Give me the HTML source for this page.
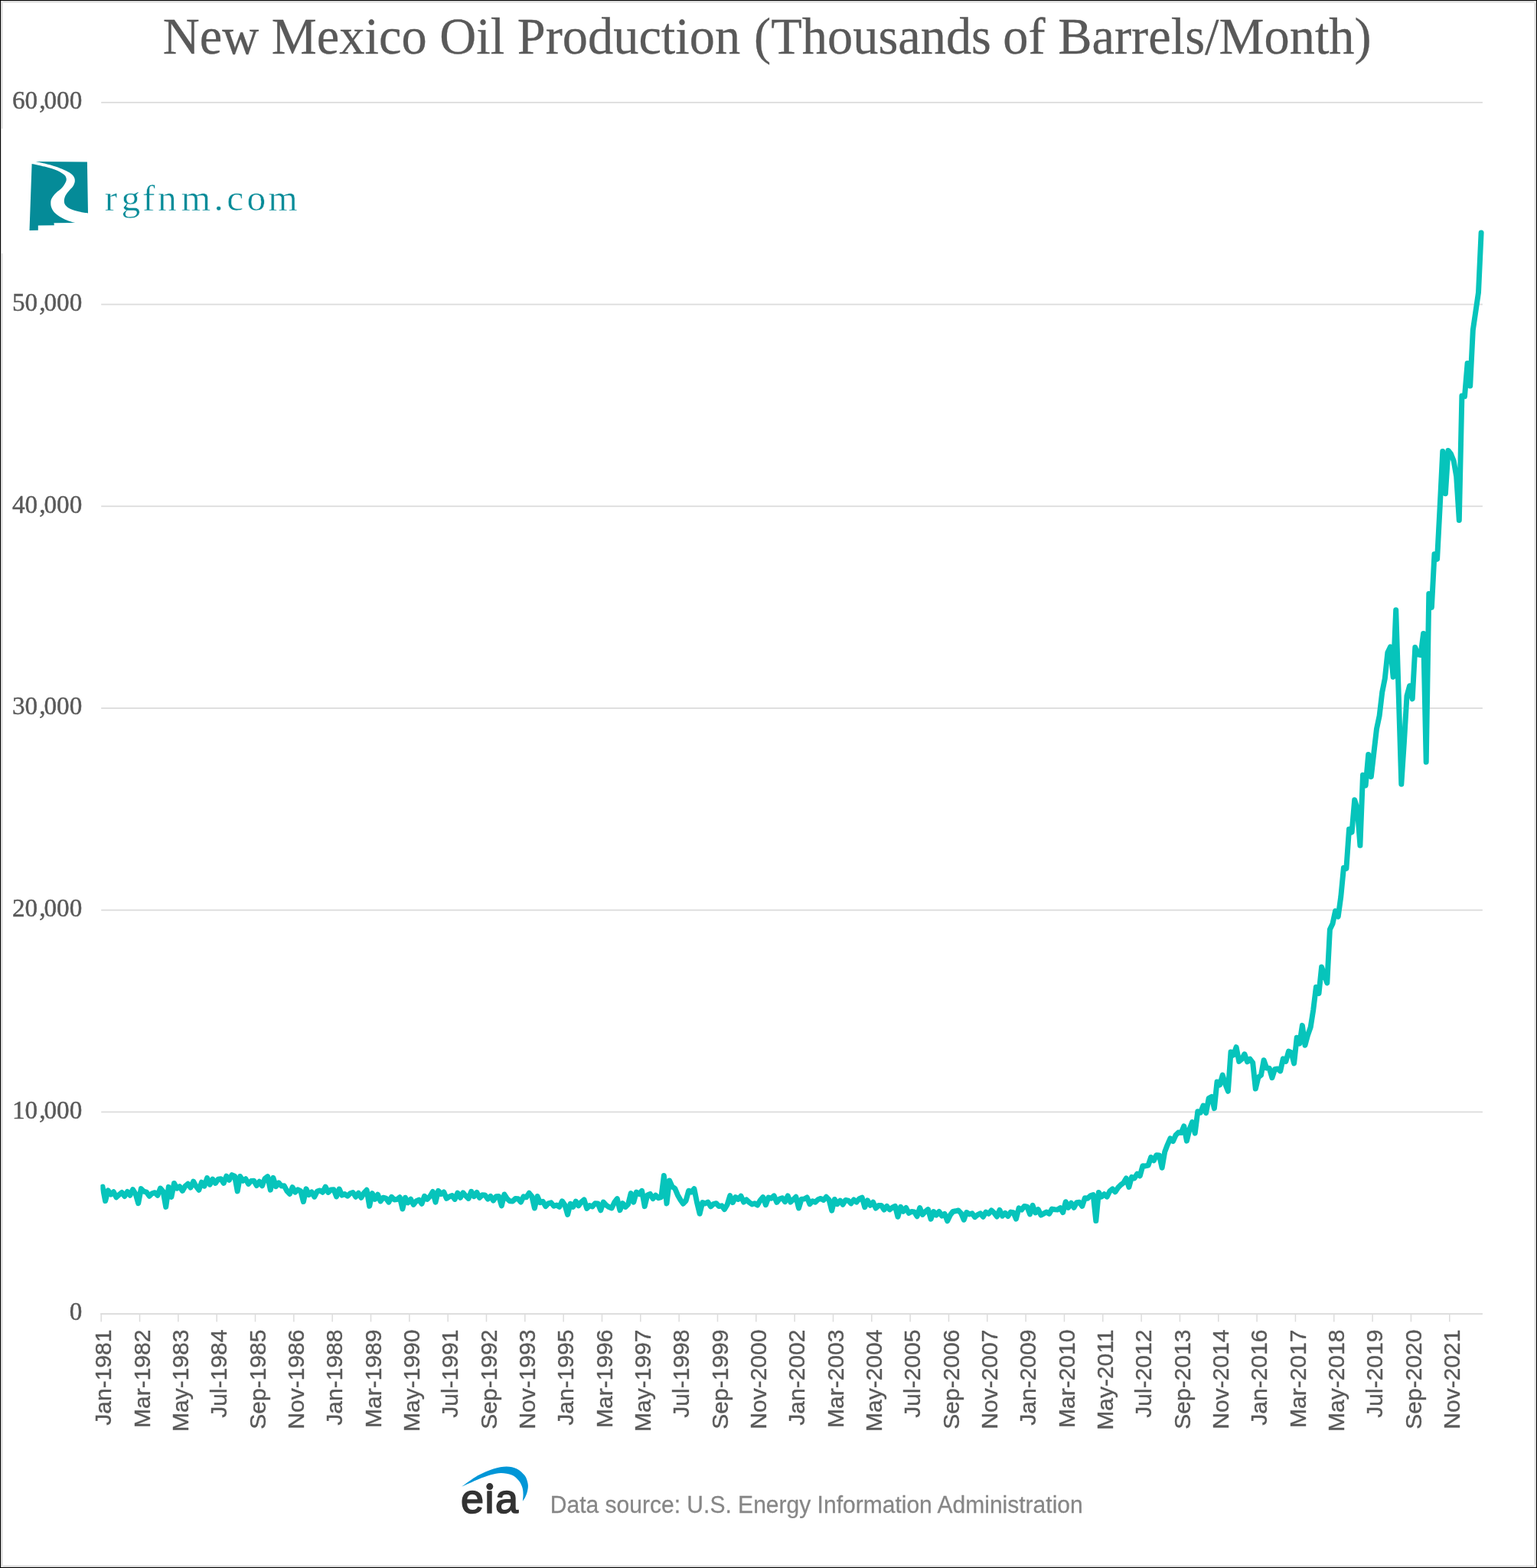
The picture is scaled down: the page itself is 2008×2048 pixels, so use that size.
<!DOCTYPE html>
<html><head><meta charset="utf-8"><title>New Mexico Oil Production</title>
<style>html,body{margin:0;padding:0;background:#fff}body{width:2008px;height:2048px;overflow:hidden}svg{display:block;will-change:transform}text{font-family:"Liberation Serif",serif}.sans{font-family:"Liberation Sans",sans-serif}</style>
</head><body>
<svg width="2008" height="2048" viewBox="0 0 2008 2048">
<defs><filter id="soft" x="0" y="0" width="2008" height="2048" filterUnits="userSpaceOnUse" color-interpolation-filters="sRGB"><feGaussianBlur stdDeviation="0.5"/></filter></defs>
<rect x="0" y="0" width="2008" height="2048" fill="#fff"/>
<g shape-rendering="crispEdges">
<rect x="1" y="1" width="2006" height="2046" fill="none" stroke="#ebebeb" stroke-width="0"/>
<rect x="0" y="1" width="2008" height="1" fill="#dadada"/>
<rect x="0" y="2046" width="2008" height="1" fill="#dadada"/>
<rect x="2006" y="0" width="1" height="2048" fill="#dadada"/>
<rect x="0" y="2" width="2008" height="1" fill="#d9d9d9"/>
<rect x="0" y="2045" width="2008" height="1" fill="#d9d9d9"/>
<rect x="2005" y="0" width="1" height="2048" fill="#d9d9d9"/>
<rect x="0" y="3" width="2008" height="1" fill="#f1f1f1"/>
<rect x="0" y="2044" width="2008" height="1" fill="#f1f1f1"/>
<rect x="2004" y="0" width="1" height="2048" fill="#f1f1f1"/>
<rect x="1" y="0" width="1" height="168" fill="#dadada"/>
<rect x="1" y="168" width="1" height="163" fill="#dddddd"/>
<rect x="1" y="331" width="1" height="1717" fill="#dadada"/>
<rect x="2" y="168" width="1" height="163" fill="#f6f6f6"/>
<rect x="2" y="0" width="1" height="168" fill="#d9d9d9"/>
<rect x="2" y="331" width="1" height="1717" fill="#d9d9d9"/>
<rect x="3" y="0" width="1" height="168" fill="#f1f1f1"/>
<rect x="3" y="331" width="1" height="1717" fill="#f1f1f1"/>
<rect x="0" y="0" width="2008" height="1" fill="#000"/>
<rect x="0" y="2047" width="2008" height="1" fill="#000"/>
<rect x="0" y="0" width="1" height="2048" fill="#000"/>
<rect x="2007" y="0" width="1" height="2048" fill="#000"/>
</g>
<g filter="url(#soft)">
<g transform="translate(212.8,70.1) scale(1,1.027)"><text x="0" y="0" font-size="66.42" fill="#595959" stroke="#595959" stroke-width="0.3">New Mexico Oil Production <tspan dx="1.3">(Thousands</tspan><tspan dx="-1.3"> of Barrels/Month)</tspan></text></g>
<rect x="132.2" y="132.96" width="1804.7" height="1.8" fill="#dcdcdc"/>
<rect x="132.2" y="396.67" width="1804.7" height="1.8" fill="#dcdcdc"/>
<rect x="132.2" y="660.38" width="1804.7" height="1.8" fill="#dcdcdc"/>
<rect x="132.2" y="924.10" width="1804.7" height="1.8" fill="#dcdcdc"/>
<rect x="132.2" y="1187.81" width="1804.7" height="1.8" fill="#dcdcdc"/>
<rect x="132.2" y="1451.52" width="1804.7" height="1.8" fill="#dcdcdc"/>
<rect x="131.2" y="1715.13" width="1805.7" height="2" fill="#dcdcdc"/>
<rect x="131.45" y="1716.13" width="1.5" height="10.3" fill="#dcdcdc"/>
<rect x="181.78" y="1716.13" width="1.5" height="10.3" fill="#dcdcdc"/>
<rect x="232.11" y="1716.13" width="1.5" height="10.3" fill="#dcdcdc"/>
<rect x="282.44" y="1716.13" width="1.5" height="10.3" fill="#dcdcdc"/>
<rect x="332.77" y="1716.13" width="1.5" height="10.3" fill="#dcdcdc"/>
<rect x="383.10" y="1716.13" width="1.5" height="10.3" fill="#dcdcdc"/>
<rect x="433.43" y="1716.13" width="1.5" height="10.3" fill="#dcdcdc"/>
<rect x="483.76" y="1716.13" width="1.5" height="10.3" fill="#dcdcdc"/>
<rect x="534.09" y="1716.13" width="1.5" height="10.3" fill="#dcdcdc"/>
<rect x="584.42" y="1716.13" width="1.5" height="10.3" fill="#dcdcdc"/>
<rect x="634.75" y="1716.13" width="1.5" height="10.3" fill="#dcdcdc"/>
<rect x="685.08" y="1716.13" width="1.5" height="10.3" fill="#dcdcdc"/>
<rect x="735.41" y="1716.13" width="1.5" height="10.3" fill="#dcdcdc"/>
<rect x="785.74" y="1716.13" width="1.5" height="10.3" fill="#dcdcdc"/>
<rect x="836.07" y="1716.13" width="1.5" height="10.3" fill="#dcdcdc"/>
<rect x="886.40" y="1716.13" width="1.5" height="10.3" fill="#dcdcdc"/>
<rect x="936.73" y="1716.13" width="1.5" height="10.3" fill="#dcdcdc"/>
<rect x="987.06" y="1716.13" width="1.5" height="10.3" fill="#dcdcdc"/>
<rect x="1037.40" y="1716.13" width="1.5" height="10.3" fill="#dcdcdc"/>
<rect x="1087.73" y="1716.13" width="1.5" height="10.3" fill="#dcdcdc"/>
<rect x="1138.06" y="1716.13" width="1.5" height="10.3" fill="#dcdcdc"/>
<rect x="1188.39" y="1716.13" width="1.5" height="10.3" fill="#dcdcdc"/>
<rect x="1238.72" y="1716.13" width="1.5" height="10.3" fill="#dcdcdc"/>
<rect x="1289.05" y="1716.13" width="1.5" height="10.3" fill="#dcdcdc"/>
<rect x="1339.38" y="1716.13" width="1.5" height="10.3" fill="#dcdcdc"/>
<rect x="1389.71" y="1716.13" width="1.5" height="10.3" fill="#dcdcdc"/>
<rect x="1440.04" y="1716.13" width="1.5" height="10.3" fill="#dcdcdc"/>
<rect x="1490.37" y="1716.13" width="1.5" height="10.3" fill="#dcdcdc"/>
<rect x="1540.70" y="1716.13" width="1.5" height="10.3" fill="#dcdcdc"/>
<rect x="1591.03" y="1716.13" width="1.5" height="10.3" fill="#dcdcdc"/>
<rect x="1641.36" y="1716.13" width="1.5" height="10.3" fill="#dcdcdc"/>
<rect x="1691.69" y="1716.13" width="1.5" height="10.3" fill="#dcdcdc"/>
<rect x="1742.02" y="1716.13" width="1.5" height="10.3" fill="#dcdcdc"/>
<rect x="1792.35" y="1716.13" width="1.5" height="10.3" fill="#dcdcdc"/>
<rect x="1842.68" y="1716.13" width="1.5" height="10.3" fill="#dcdcdc"/>
<rect x="1893.01" y="1716.13" width="1.5" height="10.3" fill="#dcdcdc"/>
<g transform="translate(107.3,142.1) scale(1,1.045)"><text x="0" y="0" font-size="33.25" fill="#595959" stroke="#595959" stroke-width="0.45" text-anchor="end">60<tspan dx="2.2">,</tspan><tspan dx="-2.2">000</tspan></text></g>
<g transform="translate(107.3,405.8) scale(1,1.045)"><text x="0" y="0" font-size="33.25" fill="#595959" stroke="#595959" stroke-width="0.45" text-anchor="end">50<tspan dx="2.2">,</tspan><tspan dx="-2.2">000</tspan></text></g>
<g transform="translate(107.3,669.5) scale(1,1.045)"><text x="0" y="0" font-size="33.25" fill="#595959" stroke="#595959" stroke-width="0.45" text-anchor="end">40<tspan dx="2.2">,</tspan><tspan dx="-2.2">000</tspan></text></g>
<g transform="translate(107.3,933.2) scale(1,1.045)"><text x="0" y="0" font-size="33.25" fill="#595959" stroke="#595959" stroke-width="0.45" text-anchor="end">30<tspan dx="2.2">,</tspan><tspan dx="-2.2">000</tspan></text></g>
<g transform="translate(107.3,1196.9) scale(1,1.045)"><text x="0" y="0" font-size="33.25" fill="#595959" stroke="#595959" stroke-width="0.45" text-anchor="end">20<tspan dx="2.2">,</tspan><tspan dx="-2.2">000</tspan></text></g>
<g transform="translate(107.3,1460.6) scale(1,1.045)"><text x="0" y="0" font-size="33.25" fill="#595959" stroke="#595959" stroke-width="0.45" text-anchor="end">10<tspan dx="2.2">,</tspan><tspan dx="-2.2">000</tspan></text></g>
<g transform="translate(107.3,1724.3) scale(1,1.045)"><text x="0" y="0" font-size="33.25" fill="#595959" stroke="#595959" stroke-width="0.45" text-anchor="end">0</text></g>
<g class="sans" font-family="'Liberation Sans',sans-serif" font-size="30" fill="#595959" stroke="#595959" stroke-width="0.38" text-anchor="end">
<text class="sans" transform="translate(145.30,1736.6) rotate(-90)">Jan-1981</text>
<text class="sans" transform="translate(195.63,1736.6) rotate(-90)">Mar-1982</text>
<text class="sans" transform="translate(245.96,1736.6) rotate(-90)">May-1983</text>
<text class="sans" transform="translate(296.29,1736.6) rotate(-90)">Jul-1984</text>
<text class="sans" transform="translate(346.62,1736.6) rotate(-90)">Sep-1985</text>
<text class="sans" transform="translate(396.95,1736.6) rotate(-90)">Nov-1986</text>
<text class="sans" transform="translate(447.28,1736.6) rotate(-90)">Jan-1988</text>
<text class="sans" transform="translate(497.61,1736.6) rotate(-90)">Mar-1989</text>
<text class="sans" transform="translate(547.94,1736.6) rotate(-90)">May-1990</text>
<text class="sans" transform="translate(598.27,1736.6) rotate(-90)">Jul-1991</text>
<text class="sans" transform="translate(648.60,1736.6) rotate(-90)">Sep-1992</text>
<text class="sans" transform="translate(698.93,1736.6) rotate(-90)">Nov-1993</text>
<text class="sans" transform="translate(749.26,1736.6) rotate(-90)">Jan-1995</text>
<text class="sans" transform="translate(799.59,1736.6) rotate(-90)">Mar-1996</text>
<text class="sans" transform="translate(849.92,1736.6) rotate(-90)">May-1997</text>
<text class="sans" transform="translate(900.25,1736.6) rotate(-90)">Jul-1998</text>
<text class="sans" transform="translate(950.58,1736.6) rotate(-90)">Sep-1999</text>
<text class="sans" transform="translate(1000.91,1736.6) rotate(-90)">Nov-2000</text>
<text class="sans" transform="translate(1051.25,1736.6) rotate(-90)">Jan-2002</text>
<text class="sans" transform="translate(1101.58,1736.6) rotate(-90)">Mar-2003</text>
<text class="sans" transform="translate(1151.91,1736.6) rotate(-90)">May-2004</text>
<text class="sans" transform="translate(1202.24,1736.6) rotate(-90)">Jul-2005</text>
<text class="sans" transform="translate(1252.57,1736.6) rotate(-90)">Sep-2006</text>
<text class="sans" transform="translate(1302.90,1736.6) rotate(-90)">Nov-2007</text>
<text class="sans" transform="translate(1353.23,1736.6) rotate(-90)">Jan-2009</text>
<text class="sans" transform="translate(1403.56,1736.6) rotate(-90)">Mar-2010</text>
<text class="sans" transform="translate(1453.89,1736.6) rotate(-90)">May-2011</text>
<text class="sans" transform="translate(1504.22,1736.6) rotate(-90)">Jul-2012</text>
<text class="sans" transform="translate(1554.55,1736.6) rotate(-90)">Sep-2013</text>
<text class="sans" transform="translate(1604.88,1736.6) rotate(-90)">Nov-2014</text>
<text class="sans" transform="translate(1655.21,1736.6) rotate(-90)">Jan-2016</text>
<text class="sans" transform="translate(1705.54,1736.6) rotate(-90)">Mar-2017</text>
<text class="sans" transform="translate(1755.87,1736.6) rotate(-90)">May-2018</text>
<text class="sans" transform="translate(1806.20,1736.6) rotate(-90)">Jul-2019</text>
<text class="sans" transform="translate(1856.53,1736.6) rotate(-90)">Sep-2020</text>
<text class="sans" transform="translate(1906.86,1736.6) rotate(-90)">Nov-2021</text>
</g>
<clipPath id="plotclip"><rect x="131.4" y="100" width="1809" height="1640"/></clipPath>
<polyline clip-path="url(#plotclip)" points="134.0,1550.1 137.6,1568.5 141.2,1554.9 144.8,1560.1 148.4,1556.8 152.0,1563.8 155.6,1560.4 159.2,1557.5 162.8,1562.5 166.4,1556.5 169.9,1561.2 173.5,1553.7 177.1,1559.3 180.7,1571.7 184.3,1552.6 187.9,1556.2 191.5,1557.2 195.1,1562.2 198.7,1558.8 202.3,1557.7 205.9,1561.2 209.5,1552.0 213.1,1556.2 216.7,1576.4 220.3,1550.4 223.9,1563.3 227.5,1545.5 231.1,1552.2 234.7,1549.7 238.3,1555.4 241.8,1549.4 245.4,1546.3 249.0,1551.0 252.6,1543.1 256.2,1549.4 259.8,1554.3 263.4,1544.2 267.0,1549.1 270.6,1538.6 274.2,1547.2 277.8,1540.2 281.4,1545.4 285.0,1540.2 288.6,1539.7 292.2,1545.4 295.8,1536.2 299.4,1541.2 303.0,1534.7 306.6,1536.2 310.2,1555.9 313.7,1536.5 317.3,1542.2 320.9,1539.8 324.5,1546.4 328.1,1542.5 331.7,1542.3 335.3,1548.5 338.9,1543.3 342.5,1548.8 346.1,1539.3 349.7,1536.7 353.3,1554.1 356.9,1538.3 360.5,1549.6 364.1,1544.9 367.7,1549.0 371.3,1548.8 374.9,1555.6 378.5,1559.5 382.1,1550.7 385.6,1557.2 389.2,1553.8 392.8,1555.6 396.4,1569.5 400.0,1552.8 403.6,1560.6 407.2,1557.0 410.8,1563.2 414.4,1556.1 418.0,1554.9 421.6,1557.2 425.2,1550.1 428.8,1557.4 432.4,1554.0 436.0,1553.8 439.6,1562.9 443.2,1553.0 446.8,1561.1 450.4,1559.5 454.0,1562.2 457.5,1558.8 461.1,1557.5 464.7,1563.2 468.3,1558.2 471.9,1564.3 475.5,1558.2 479.1,1554.3 482.7,1575.3 486.3,1558.6 489.9,1566.4 493.5,1560.2 497.1,1569.0 500.7,1564.2 504.3,1565.1 507.9,1570.1 511.5,1563.3 515.1,1566.9 518.7,1566.5 522.3,1563.8 525.9,1579.0 529.4,1564.2 533.0,1570.9 536.6,1566.3 540.2,1573.4 543.8,1568.8 547.4,1567.2 551.0,1572.2 554.6,1562.3 558.2,1566.4 561.8,1562.5 565.4,1556.5 569.0,1570.1 572.6,1555.4 576.2,1559.6 579.8,1557.0 583.4,1565.4 587.0,1563.0 590.6,1561.6 594.2,1566.4 597.8,1558.1 601.4,1564.3 604.9,1557.9 608.5,1562.0 612.1,1565.4 615.7,1556.3 619.3,1562.7 622.9,1557.5 626.5,1564.3 630.1,1560.7 633.7,1560.9 637.3,1566.1 640.9,1562.5 644.5,1568.0 648.1,1562.8 651.7,1562.5 655.3,1574.8 658.9,1560.0 662.5,1565.7 666.1,1568.8 669.7,1569.0 673.3,1565.6 676.8,1565.8 680.4,1570.1 684.0,1562.8 687.6,1563.8 691.2,1558.3 694.8,1562.5 698.4,1578.0 702.0,1562.5 705.6,1570.6 709.2,1569.3 712.8,1575.6 716.4,1571.9 720.0,1570.9 723.6,1575.3 727.2,1574.0 730.8,1576.4 734.4,1568.8 738.0,1574.0 741.6,1586.4 745.2,1572.2 748.7,1576.4 752.3,1569.1 755.9,1574.8 759.5,1569.9 763.1,1567.0 766.7,1578.5 770.3,1574.6 773.9,1575.9 777.5,1571.7 781.1,1571.9 784.7,1580.8 788.3,1570.1 791.9,1574.1 795.5,1576.5 799.1,1578.0 802.7,1570.4 806.3,1565.6 809.9,1580.6 813.5,1571.7 817.1,1576.4 820.6,1573.0 824.2,1558.6 827.8,1570.1 831.4,1557.0 835.0,1559.6 838.6,1555.4 842.2,1575.6 845.8,1560.9 849.4,1559.4 853.0,1565.6 856.6,1561.2 860.2,1564.8 863.8,1563.6 867.4,1535.5 871.0,1571.9 874.6,1542.0 878.2,1549.9 881.8,1552.3 885.4,1560.9 889.0,1567.2 892.5,1572.2 896.1,1568.3 899.7,1555.2 903.3,1557.1 906.9,1552.8 910.5,1570.4 914.1,1585.3 917.7,1570.6 921.3,1571.9 924.9,1570.1 928.5,1575.8 932.1,1572.6 935.7,1571.7 939.3,1575.6 942.9,1574.8 946.5,1579.5 950.1,1573.5 953.7,1561.7 957.3,1570.6 960.9,1563.6 964.4,1566.4 968.0,1562.2 971.6,1570.1 975.2,1567.0 978.8,1570.4 982.4,1572.9 986.0,1571.7 989.6,1574.0 993.2,1567.7 996.8,1563.6 1000.4,1573.7 1004.0,1564.0 1007.6,1565.3 1011.2,1561.9 1014.8,1570.4 1018.4,1566.1 1022.0,1564.7 1025.6,1569.6 1029.2,1562.0 1032.8,1570.1 1036.3,1566.7 1039.9,1563.3 1043.5,1578.0 1047.1,1566.2 1050.7,1566.0 1054.3,1563.9 1057.9,1572.7 1061.5,1568.8 1065.1,1570.1 1068.7,1566.7 1072.3,1565.4 1075.9,1567.5 1079.5,1563.3 1083.1,1567.2 1086.7,1581.1 1090.3,1566.5 1093.9,1572.7 1097.5,1568.1 1101.1,1573.3 1104.7,1567.4 1108.2,1568.1 1111.8,1571.9 1115.4,1567.0 1119.0,1570.1 1122.6,1565.7 1126.2,1564.1 1129.8,1576.7 1133.4,1567.9 1137.0,1574.3 1140.6,1570.2 1144.2,1578.0 1147.8,1574.6 1151.4,1574.4 1155.0,1580.1 1158.6,1575.4 1162.2,1579.9 1165.8,1577.2 1169.4,1575.4 1173.0,1589.3 1176.6,1576.3 1180.1,1582.2 1183.7,1577.5 1187.3,1584.5 1190.9,1582.5 1194.5,1583.0 1198.1,1588.7 1201.7,1577.5 1205.3,1586.4 1208.9,1582.5 1212.5,1579.6 1216.1,1592.2 1219.7,1582.5 1223.3,1587.1 1226.9,1582.5 1230.5,1588.0 1234.1,1585.4 1237.7,1594.8 1241.3,1587.2 1244.9,1582.5 1248.5,1581.8 1252.0,1581.0 1255.6,1584.6 1259.2,1593.2 1262.8,1583.5 1266.4,1585.9 1270.0,1584.9 1273.6,1589.6 1277.2,1586.7 1280.8,1584.9 1284.4,1589.2 1288.0,1583.1 1291.6,1585.4 1295.2,1581.0 1298.8,1584.1 1302.4,1589.0 1306.0,1580.4 1309.6,1588.2 1313.2,1584.4 1316.8,1588.5 1320.4,1583.1 1323.9,1583.7 1327.5,1592.0 1331.1,1577.9 1334.7,1580.1 1338.3,1575.4 1341.9,1576.2 1345.5,1585.9 1349.1,1574.4 1352.7,1584.0 1356.3,1579.6 1359.9,1587.1 1363.5,1585.1 1367.1,1583.0 1370.7,1585.4 1374.3,1579.1 1377.9,1579.7 1381.5,1579.9 1385.1,1577.7 1388.7,1583.6 1392.3,1569.7 1395.8,1577.3 1399.4,1571.3 1403.0,1577.3 1406.6,1570.7 1410.2,1570.2 1413.8,1575.4 1417.4,1564.7 1421.0,1565.2 1424.6,1561.8 1428.2,1560.5 1431.8,1594.6 1435.4,1557.4 1439.0,1563.1 1442.6,1559.7 1446.2,1563.1 1449.8,1556.0 1453.4,1552.9 1457.0,1556.8 1460.6,1551.3 1464.2,1547.6 1467.7,1545.0 1471.3,1539.0 1474.9,1550.5 1478.5,1537.4 1482.1,1538.9 1485.7,1533.2 1489.3,1535.8 1492.9,1522.7 1496.5,1522.9 1500.1,1522.1 1503.7,1511.5 1507.3,1515.8 1510.9,1508.7 1514.5,1508.9 1518.1,1525.3 1521.7,1504.5 1525.3,1495.1 1528.9,1487.0 1532.5,1490.6 1536.1,1482.5 1539.7,1479.1 1543.2,1479.6 1546.8,1470.9 1550.4,1490.1 1554.0,1475.1 1557.6,1465.5 1561.2,1480.1 1564.8,1451.8 1568.4,1453.1 1572.0,1444.0 1575.6,1453.6 1579.2,1434.5 1582.8,1432.4 1586.4,1447.6 1590.0,1413.0 1593.6,1417.0 1597.2,1404.2 1600.8,1415.9 1604.4,1425.3 1608.0,1374.0 1611.6,1378.0 1615.1,1367.7 1618.7,1386.4 1622.3,1383.4 1625.9,1376.8 1629.5,1386.8 1633.1,1383.3 1636.7,1388.1 1640.3,1422.1 1643.9,1407.1 1647.5,1404.3 1651.1,1384.7 1654.7,1395.0 1658.3,1395.3 1661.9,1407.7 1665.5,1396.5 1669.1,1396.0 1672.7,1398.9 1676.3,1382.8 1679.9,1386.4 1683.5,1373.1 1687.0,1374.7 1690.6,1388.9 1694.2,1355.3 1697.8,1363.1 1701.4,1339.4 1705.0,1365.2 1708.6,1351.7 1712.2,1341.6 1715.8,1318.7 1719.4,1289.2 1723.0,1297.6 1726.6,1263.1 1730.2,1273.5 1733.8,1283.9 1737.4,1214.0 1741.0,1206.4 1744.6,1189.8 1748.2,1197.3 1751.8,1171.0 1755.4,1133.6 1758.9,1134.4 1762.5,1083.1 1766.1,1087.0 1769.7,1044.7 1773.3,1056.5 1776.9,1104.3 1780.5,1012.2 1784.1,1026.0 1787.7,985.5 1791.3,1014.5 1794.9,983.0 1798.5,951.9 1802.1,935.1 1805.7,904.3 1809.3,886.3 1812.9,852.2 1816.5,844.9 1820.1,884.2 1823.7,796.7 1827.3,909.8 1830.8,1024.2 1834.4,969.4 1838.0,908.9 1841.6,895.7 1845.2,912.9 1848.8,845.6 1852.4,854.8 1856.0,855.5 1859.6,827.4 1863.2,995.3 1866.8,775.4 1870.4,793.4 1874.0,723.8 1877.6,730.3 1881.2,661.5 1884.8,589.5 1888.4,644.7 1892.0,588.4 1895.6,593.0 1899.2,602.0 1902.7,622.5 1906.3,679.5 1909.9,516.9 1913.5,517.8 1917.1,474.5 1920.7,504.0 1924.3,431.3 1927.9,406.7 1931.5,382.1 1935.1,304.0" fill="none" stroke="#06c4bb" stroke-width="7" stroke-linejoin="round" stroke-linecap="round"/>
<path d="M41.6,213.9C44.4,214.5 52.7,216.1 58.3,217.6C63.9,219.1 71.0,221.1 75.3,222.9C79.6,224.8 82.2,226.9 84.1,228.6C86.0,230.4 86.4,231.8 86.7,233.4C86.9,235.1 86.5,236.5 85.5,238.5C84.6,240.5 83.1,243.1 81.0,245.3C78.9,247.6 75.3,249.8 73.1,252.1C70.8,254.5 68.5,257.3 67.4,259.5C66.3,261.7 66.3,263.2 66.3,265.2C66.3,267.1 66.4,269.2 67.4,271.4C68.3,273.6 69.8,276.1 71.9,278.2C74.0,280.3 76.9,282.2 79.9,283.9C82.8,285.6 86.3,287.2 89.5,288.4C92.7,289.6 97.3,290.7 98.8,291.1L70.5,291.2L70.8,294.3L49.8,294.5L49.8,300.8L38.5,301.1Z" fill="#058b98"/><path d="M115.0,278.5C113.1,278.1 107.4,277.4 103.7,276.5C99.9,275.6 95.3,274.5 92.3,273.1C89.3,271.7 86.9,269.8 85.5,268.0C84.1,266.2 83.8,264.4 83.8,262.3C83.8,260.2 84.5,257.7 85.5,255.5C86.6,253.4 88.5,251.3 90.1,249.3C91.7,247.3 93.9,245.6 95.2,243.6C96.4,241.6 97.4,239.4 97.7,237.4C98.0,235.4 97.8,233.5 96.9,231.7C96.0,229.9 94.5,228.2 92.3,226.6C90.2,225.0 87.1,223.6 83.8,222.1C80.5,220.6 76.7,219.0 72.5,217.6C68.2,216.1 62.6,214.7 58.3,213.6C54.1,212.5 48.9,211.5 47.0,211.0L113.9,211.6Z" fill="#058b98"/>
<text x="136.8 158.4 185.9 206.1 236.7 279.6 296.2 322.4 350.2" y="274.6" font-size="49.5" fill="#058b98" stroke="#fff" stroke-width="0.55">rgfnm.com</text>
<path d="M603.3,1941.6C606.8,1939.3 617.3,1931.2 624.1,1927.3C631.0,1923.4 638.4,1920.4 644.6,1918.4C650.9,1916.4 656.6,1915.4 661.7,1915.4C666.8,1915.4 671.4,1916.4 675.3,1918.4C679.3,1920.4 683.2,1924.0 685.6,1927.3C688.0,1930.6 689.1,1934.8 689.7,1938.2C690.3,1941.6 689.6,1944.9 689.0,1947.8C688.4,1950.6 687.3,1953.1 686.3,1955.3C685.2,1957.5 683.4,1959.9 682.9,1960.8C683.0,1959.2 683.7,1954.3 683.5,1951.2C683.4,1948.1 683.2,1945.3 682.2,1942.3C681.2,1939.4 679.7,1936.1 677.4,1933.5C675.1,1930.8 672.3,1928.2 668.5,1926.6C664.8,1925.0 659.4,1924.0 654.9,1923.9C650.3,1923.8 646.3,1924.9 641.2,1926.3C636.1,1927.7 630.5,1929.9 624.1,1932.4C617.8,1935.0 606.8,1940.1 603.3,1941.6Z" fill="#0096d7"/>
<text class="sans" x="601.9 632.1 647.0" y="1976.2" font-size="54.0" fill="#333" stroke="#333" stroke-width="1.7" stroke-linejoin="round">eıa</text>
<circle cx="639.8" cy="1941.6" r="4.5" fill="#333"/>
<g transform="translate(718.8,1975.7) scale(1,1.02)"><text class="sans" x="0" y="0" font-size="30.04" fill="#868686" stroke="#868686" stroke-width="0.25">Data source: U.S. Energy Information Administration</text></g>
</g>
</svg></body></html>
